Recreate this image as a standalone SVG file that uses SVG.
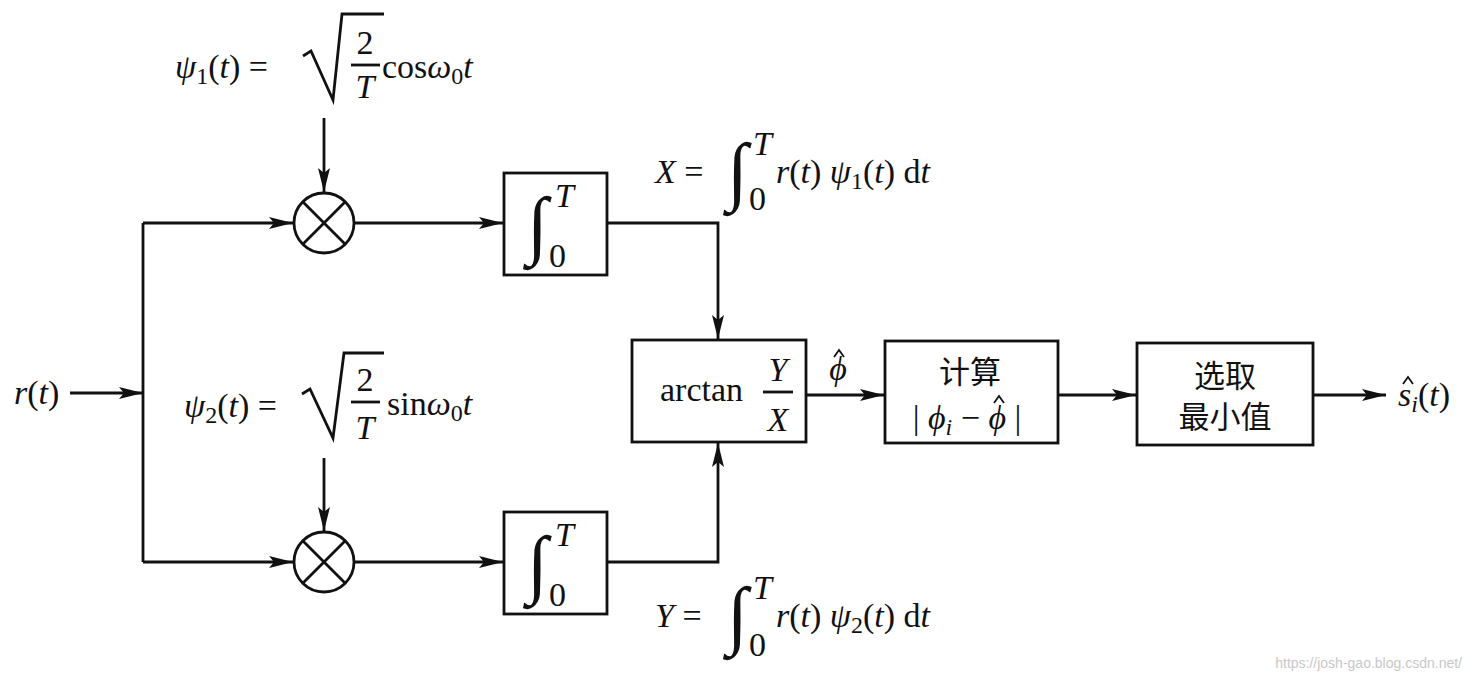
<svg xmlns="http://www.w3.org/2000/svg" width="1476" height="682" viewBox="0 0 1476 682">
<style>
.t{font-family:"Liberation Serif","Times New Roman",serif;font-size:34px;fill:#111}
.i{font-style:italic}
.s{font-size:24px}
.cn{font-family:"Noto Sans CJK SC","Noto Sans",sans-serif;font-size:31px;fill:#111}
.int{font-family:"Liberation Serif",serif;font-size:76px;fill:#111}
.ln{fill:none;stroke:#111;stroke-width:2.8}
.hat{fill:none;stroke:#111;stroke-width:1.8}
.box{fill:#fff;stroke:#111;stroke-width:2.8}
.wm{font-family:"Liberation Sans",sans-serif;font-size:14px;fill:#c8c8c8}
</style>
<defs>
<marker id="ah" viewBox="0 0 24 12" refX="24" refY="6" markerWidth="24" markerHeight="12" markerUnits="userSpaceOnUse" orient="auto">
<path d="M0,0 L24,6 L0,12 L5,6 Z" fill="#111"/>
</marker>
</defs>
<g id="connectors">
<line class="ln" x1="70" y1="393" x2="143" y2="393" marker-end="url(#ah)"/>
<polyline class="ln" points="143,393 143,223"/>
<polyline class="ln" points="143,393 143,562"/>
<line class="ln" x1="143" y1="223" x2="293" y2="223" marker-end="url(#ah)"/>
<line class="ln" x1="143" y1="562" x2="293" y2="562" marker-end="url(#ah)"/>
<line class="ln" x1="324" y1="118" x2="324" y2="192" marker-end="url(#ah)"/>
<line class="ln" x1="324" y1="458" x2="324" y2="531" marker-end="url(#ah)"/>
<line class="ln" x1="355" y1="223" x2="503" y2="223" marker-end="url(#ah)"/>
<line class="ln" x1="355" y1="562" x2="503" y2="562" marker-end="url(#ah)"/>
<polyline class="ln" points="607,223 718,223 718,339" marker-end="url(#ah)"/>
<polyline class="ln" points="607,562 718,562 718,443" marker-end="url(#ah)"/>
<line class="ln" x1="806" y1="395" x2="884" y2="395" marker-end="url(#ah)"/>
<line class="ln" x1="1058" y1="395" x2="1136" y2="395" marker-end="url(#ah)"/>
<line class="ln" x1="1313" y1="395" x2="1386" y2="395" marker-end="url(#ah)"/>
</g>
<g id="input">
<text class="t" x="14" y="404"><tspan class="i">r</tspan>(<tspan class="i">t</tspan>)</text>
</g>
<g id="psi1">
<text class="t" x="175" y="78"><tspan class="i">ψ</tspan><tspan class="s" dy="6">1</tspan><tspan dy="-6">(</tspan><tspan class="i">t</tspan>) =</text>
<path class="ln" d="M303,56 L311,51 L333,100 L342,14 L384,14" stroke-width="3"/>
<text class="t" x="365" y="54" text-anchor="middle">2</text>
<line class="ln" x1="351" y1="65" x2="380" y2="65" stroke-width="2"/>
<text class="t i" x="365" y="98" text-anchor="middle">T</text>
<text class="t" x="382" y="78">cos<tspan class="i">ω</tspan><tspan class="s" dy="6">0</tspan><tspan class="i" dy="-6">t</tspan></text>
</g>
<g id="psi2">
<text class="t" x="184" y="417"><tspan class="i">ψ</tspan><tspan class="s" dy="6">2</tspan><tspan dy="-6">(</tspan><tspan class="i">t</tspan>) =</text>
<path class="ln" d="M302,394 L310,389 L333,438 L344,353 L384,353" stroke-width="3"/>
<text class="t" x="365" y="391" text-anchor="middle">2</text>
<line class="ln" x1="351" y1="402" x2="380" y2="402" stroke-width="2"/>
<text class="t i" x="365" y="439" text-anchor="middle">T</text>
<text class="t" x="387" y="415">sin<tspan class="i">ω</tspan><tspan class="s" dy="6">0</tspan><tspan class="i" dy="-6">t</tspan></text>
</g>
<g id="mult1">
<circle class="box" cx="324" cy="223" r="30"/>
<path class="ln" d="M303,202 L345,244 M345,202 L303,244" stroke-width="2"/>
</g>
<g id="mult2">
<circle class="box" cx="324" cy="562" r="30"/>
<path class="ln" d="M303,541 L345,583 M345,541 L303,583" stroke-width="2"/>
</g>
<g id="int1">
<rect class="box" x="504" y="173" width="103" height="102"/>
<text class="int" x="527" y="250">∫</text>
<text class="t i" x="555" y="207" font-size="26">T</text>
<text class="t" x="549" y="267" font-size="28">0</text>
</g>
<g id="int2">
<rect class="box" x="504" y="512" width="103" height="102"/>
<text class="int" x="527" y="589">∫</text>
<text class="t i" x="555" y="546" font-size="26">T</text>
<text class="t" x="549" y="606" font-size="28">0</text>
</g>
<g id="xeq">
<text class="t" x="655" y="183"><tspan class="i">X</tspan> =</text>
<text class="int" x="727" y="196">∫</text>
<text class="t i" x="753" y="155" font-size="24">T</text>
<text class="t" x="749" y="210" font-size="28">0</text>
<text class="t" x="776" y="183"><tspan class="i">r</tspan>(<tspan class="i">t</tspan>) <tspan class="i">ψ</tspan><tspan class="s" dy="6">1</tspan><tspan dy="-6">(</tspan><tspan class="i">t</tspan>) d<tspan class="i">t</tspan></text>
</g>
<g id="yeq">
<text class="t" x="655" y="627"><tspan class="i">Y</tspan> =</text>
<text class="int" x="727" y="640">∫</text>
<text class="t i" x="753" y="599" font-size="24">T</text>
<text class="t" x="749" y="656" font-size="28">0</text>
<text class="t" x="776" y="627"><tspan class="i">r</tspan>(<tspan class="i">t</tspan>) <tspan class="i">ψ</tspan><tspan class="s" dy="6">2</tspan><tspan dy="-6">(</tspan><tspan class="i">t</tspan>) d<tspan class="i">t</tspan></text>
</g>
<g id="arctan">
<rect class="box" x="632" y="340" width="174" height="102"/>
<text class="t" x="660" y="401">arctan</text>
<text class="t i" x="778" y="381" text-anchor="middle">Y</text>
<line class="ln" x1="763" y1="392" x2="793" y2="392" stroke-width="2"/>
<text class="t i" x="778" y="431" text-anchor="middle">X</text>
</g>
<g id="phihat">
<text class="t i" x="838" y="380" text-anchor="middle">ϕ</text>
<path class="hat" d="M834,357 L839,350 L844,357"/>
</g>
<g id="compute">
<rect class="box" x="885" y="341" width="173" height="102"/>
<text class="cn" x="970" y="383" text-anchor="middle">计算</text>
<text class="t" x="967" y="429" text-anchor="middle">| <tspan class="i">ϕ</tspan><tspan class="s i" dy="6">i</tspan><tspan dy="-6"> − </tspan><tspan class="i">ϕ</tspan> |</text>
<path class="hat" d="M994,403 L999,396 L1004,403"/>
</g>
<g id="select">
<rect class="box" x="1137" y="343" width="176" height="102"/>
<text class="cn" x="1225" y="387" text-anchor="middle">选取</text>
<text class="cn" x="1225" y="428" text-anchor="middle">最小值</text>
</g>
<g id="output">
<text class="t i" x="1398" y="406">s<tspan class="s" dy="6">i</tspan><tspan font-style="normal" dy="-6">(</tspan>t<tspan font-style="normal">)</tspan></text>
<path class="hat" d="M1403,384 L1408,377 L1413,384"/>
</g>
<text class="wm" x="1462" y="668" text-anchor="end">https://josh-gao.blog.csdn.net/</text>
</svg>
